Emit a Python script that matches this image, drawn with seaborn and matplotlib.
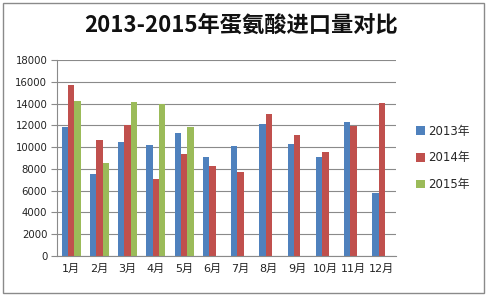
import matplotlib
matplotlib.use("Agg")
import matplotlib.pyplot as plt
from matplotlib.patches import Rectangle
import numpy as np
import pandas as pd
import seaborn as sns

months = ["1月", "2月", "3月", "4月", "5月", "6月", "7月", "8月", "9月", "10月", "11月", "12月"]
years = ["2013年", "2014年", "2015年"]
v2013 = [11850, 7570, 10460, 10180, 11290, 9080, 10090, 12090, 10280, 9080, 12280, 5820]
v2014 = [15720, 10670, 12000, 7110, 9360, 8300, 7750, 13010, 11120, 9540, 11970, 14090]
v2015 = [14280, 8520, 14120, 13940, 11850, np.nan, np.nan, np.nan, np.nan, np.nan, np.nan, np.nan]
colors = ["#4F81BD", "#C0504D", "#9BBB59"]
yticks = [0, 2000, 4000, 6000, 8000, 10000, 12000, 14000, 16000, 18000]

rows = []
for yr, vals in zip(years, [v2013, v2014, v2015]):
    for m, v in zip(months, vals):
        rows.append({"month": m, "year": yr, "value": v})
df = pd.DataFrame(rows)

sns.set_style("white")
plt.rcParams["font.family"] = ["DejaVu Sans", "Noto Sans CJK SC"]

fig = plt.figure(figsize=(4.88, 2.99), dpi=100)
ax = fig.add_axes([57 / 488, 1 - 256 / 299, (396 - 57) / 488, (256 - 60) / 299])

sns.barplot(data=df, x="month", y="value", hue="year", order=months, hue_order=years,
            palette=colors, width=0.666, saturation=1, ax=ax, errorbar=None, linewidth=0)

ax.set_ylim(0, 18000)
ax.set_xlim(-0.5, 11.5)
ax.set_yticks(yticks)
ax.set_yticklabels([str(t) for t in yticks], fontsize=7.3, color="#222222")
ax.yaxis.grid(True, color="#8a8a8a", linewidth=0.8)
ax.set_axisbelow(True)
ax.set_xlabel("")
ax.set_ylabel("")
ax.tick_params(axis="x", which="major", length=0, labelsize=8, pad=6, colors="#222222")
ax.set_xticks(np.arange(-0.5, 12, 1), minor=True)
ax.tick_params(axis="x", which="minor", length=4, color="#8a8a8a", direction="out")
ax.tick_params(axis="y", length=4, color="#8a8a8a", direction="out", left=True, pad=3)
for s in ["top", "right"]:
    ax.spines[s].set_visible(False)
for s in ["left", "bottom"]:
    ax.spines[s].set_color("#8a8a8a")
    ax.spines[s].set_linewidth(0.8)

leg = ax.legend(loc="center left", bbox_to_anchor=(1.045, 0.5), frameon=False,
                fontsize=8.5, handlelength=0.75, handleheight=0.75, handletextpad=0.25,
                labelspacing=1.15, borderaxespad=0)

fig.text(241 / 488, 1 - 25.5 / 299, "2013-2015年蛋氨酸进口量对比", ha="center", va="center",
         fontsize=16, fontweight="bold", color="#111111",
         family=["Noto Sans CJK SC", "DejaVu Sans"])

fig.patches.append(Rectangle((3 / 488, 1 - 293 / 299), 481 / 488, 290 / 299,
                             transform=fig.transFigure, fill=False,
                             edgecolor="#8a8a8a", linewidth=1.0))

fig.savefig("out.png", dpi=100)
